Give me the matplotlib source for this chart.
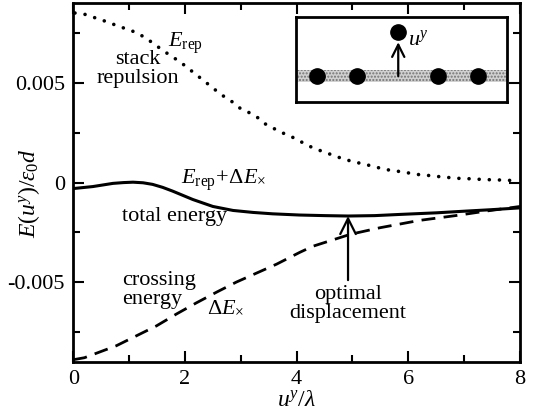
import matplotlib.pyplot as plt
from matplotlib.patches import Rectangle

plt.rcParams['font.family'] = ['Liberation Serif', 'DejaVu Serif']
plt.rcParams['mathtext.fontset'] = 'custom'
plt.rcParams['mathtext.rm'] = 'Liberation Serif'
plt.rcParams['mathtext.it'] = 'Liberation Serif:italic'
plt.rcParams['mathtext.bf'] = 'Liberation Serif:bold'

# values
u_rep = [0.03, 0.21, 0.56, 0.77, 1.10, 1.28, 1.42, 1.58, 1.73, 1.91, 2.06, 2.21, 2.36, 2.50,
         2.66, 2.84, 2.98, 3.16, 3.31, 3.46, 3.64, 3.82, 4.0, 4.15, 4.33, 4.51, 4.70, 4.88,
         5.06, 5.25, 5.43, 5.61, 5.81, 5.99, 6.19, 6.39, 6.58, 6.78, 6.96, 7.15, 7.34, 7.54,
         7.73, 7.91]
e_rep = [0.00852, 0.00845, 0.00812, 0.0079, 0.00757, 0.0073, 0.00702, 0.00669, 0.0064,
         0.00607, 0.00574, 0.0054, 0.00507, 0.00475, 0.0044, 0.00407, 0.00375, 0.0035,
         0.00325, 0.0029, 0.00265, 0.0024, 0.00219, 0.00193, 0.0017, 0.00152, 0.00132,
         0.00115, 0.00102, 0.0009, 0.00077, 0.00065, 0.00057, 0.00049, 0.0004, 0.00035,
         0.00029, 0.00024, 0.0002, 0.00019, 0.00015, 0.00014, 0.00012, 0.0001]

u_tot = [0, 0.35, 0.71, 0.9, 1.07, 1.25, 1.42, 1.6, 1.78, 2.14, 2.5, 2.86, 3.22, 3.57, 4.05,
         4.5, 4.92, 5.4, 5.85, 6.5, 7.05, 7.5, 8.0]
e_tot = [-0.0003, -0.0002, -0.00004, 0.0, 0.00002, -0.00001, -0.00009, -0.00024, -0.00043,
         -0.00085, -0.0012, -0.0014, -0.0015, -0.00157, -0.00163, -0.00166, -0.00168,
         -0.00166, -0.0016, -0.00152, -0.00143, -0.00136, -0.00127]

u_cross = [0, 0.2, 0.39, 0.77, 1.13, 1.49, 1.85, 2.2, 2.57, 2.92, 3.28, 3.64, 4.06, 4.29,
           4.96, 5.49, 6.2, 6.87, 7.4, 8.0]
e_cross = [-0.0089, -0.0088, -0.0086, -0.0082, -0.0077, -0.0072, -0.0066, -0.00605, -0.0055,
           -0.0050, -0.00455, -0.0041, -0.0035, -0.0032, -0.0026, -0.00227, -0.0019,
           -0.00165, -0.00143, -0.0012]

u_opt = 4.92
e_opt = -0.00168

fig = plt.figure(figsize=(5.35, 4.18), dpi=100)
ax = fig.add_axes([0.137, 0.1347, 0.835, 0.857])

ax.plot(u_rep, e_rep, color='black', lw=2.6, linestyle=(0, (0.01, 2.8)), dash_capstyle='round')
ax.plot(u_tot, e_tot, color='black', lw=2.2)
ax.plot(u_cross, e_cross, color='black', lw=2, linestyle=(0, (5.0, 3.0)))

ax.set_xlim(0, 8)
ax.set_ylim(-0.009, 0.009)
ax.set_xticks([0, 2, 4, 6, 8])
ax.set_xticks([1, 3, 5, 7], minor=True)
ax.set_yticks([-0.005, 0, 0.005])
ax.set_yticklabels(['-0.005', '0', '0.005'])
ax.set_yticks([-0.0075, -0.0025, 0.0025, 0.0075], minor=True)
ax.tick_params(which='both', direction='in', top=True, right=True, labelsize=16, width=1.5)
ax.tick_params(which='major', length=8, pad=6)
ax.tick_params(which='minor', length=5)
for s in ax.spines.values():
    s.set_linewidth(2)

ax.set_xlabel(r'$u^y/\lambda$', fontsize=17, labelpad=1)
ax.set_ylabel(r'$E(u^y)/\varepsilon_0 d$', fontsize=17)
ax.yaxis.set_label_coords(-0.07, 0.47)

ax.text(1.15, 0.0057, 'stack\nrepulsion', fontsize=16, ha='center', va='center', linespacing=1.0)
ax.text(1.7, 0.0070, r'$E_{\mathrm{rep}}$', fontsize=16, ha='left', va='center')
ax.text(1.93, 0.0001, r'$E_{\mathrm{rep}}\!+\!\Delta E_{\times}$', fontsize=16, ha='left', va='center')
ax.text(0.88, -0.0017, 'total energy', fontsize=16, ha='left', va='center')
ax.text(0.88, -0.0054, 'crossing\nenergy', fontsize=16, ha='left', va='center', linespacing=1.0)
ax.text(2.4, -0.0063, r'$\Delta E_{\times}$', fontsize=16, ha='left', va='center')
ax.text(u_opt, -0.0061, 'optimal\ndisplacement', fontsize=16, ha='center', va='center', linespacing=1.0)
ax.annotate('', xy=(u_opt, e_opt), xytext=(u_opt, -0.0049),
            arrowprops=dict(arrowstyle='->', lw=1.6, mutation_scale=28, shrinkA=0, shrinkB=0))

# inset sketch
band = [0.235, 0.373]
dots_x = [0.101, 0.289, 0.673, 0.862]
dot_y = 0.302
top_dot = (0.486, 0.824)
ins = fig.add_axes([0.5527, 0.7567, 0.3944, 0.2033])
ins.set_xlim(0, 1)
ins.set_ylim(0, 1)
ins.set_xticks([])
ins.set_yticks([])
for s in ins.spines.values():
    s.set_linewidth(2)
ins.add_patch(Rectangle((0, band[0]), 1, band[1] - band[0], facecolor='0.82',
                        edgecolor='0.45', hatch='.....', lw=0))
ins.plot(dots_x, [dot_y] * len(dots_x), 'o', color='black', ms=11)
ins.plot([top_dot[0]], [top_dot[1]], 'o', color='black', ms=11)
ins.annotate('', xy=(top_dot[0], 0.70), xytext=(top_dot[0], dot_y),
             arrowprops=dict(arrowstyle='->', lw=1.6, mutation_scale=22, shrinkA=0, shrinkB=0))
ins.text(0.53, 0.73, r'$u^y$', fontsize=16, ha='left', va='center')

fig.savefig('out.png', dpi=100)
